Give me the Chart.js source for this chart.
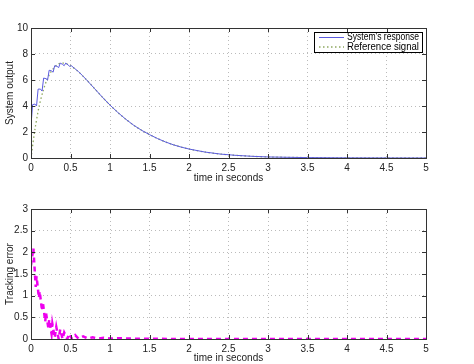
<!DOCTYPE html>
<html>
<head>
<meta charset="utf-8">
<script src="https://cdn.jsdelivr.net/npm/chart.js@4"></script>
<style>
  body { margin: 0; background: #fff; overflow: hidden; }
  .box { position: absolute; left: 0; width: 474px; }
  #top { top: 0; height: 188px; }
  #bottom { top: 190px; height: 178px; }
</style>
</head>
<body>
<div class="box" id="top"><canvas id="respChart"></canvas></div>
<div class="box" id="bottom"><canvas id="errChart"></canvas></div>
<script>
// system response (sawtooth at the start, then smooth decay)
let sysTime = [0, 0.02, 0.05, 0.07, 0.09, 0.12, 0.14, 0.16, 0.19, 0.21, 0.23, 0.26, 0.28, 0.30, 0.33, 0.35,
    0.37, 0.40, 0.42, 0.44, 0.47, 0.49, 0.51, 0.55, 0.6, 0.65, 0.7, 0.8, 0.9, 1.0, 1.1, 1.2, 1.3, 1.4, 1.5,
    1.6, 1.7, 1.8, 1.9, 2.0, 2.2, 2.4, 2.6, 2.8, 3.0, 3.5, 4.0, 4.5, 5.0];
let sysValues = [2.5, 4.1, 4.15, 4.0, 5.3, 5.3, 5.15, 6.15, 6.1, 6.0, 6.75, 6.7, 6.6, 7.1, 7.05, 6.95,
    7.3, 7.2, 7.1, 7.3, 7.15, 7.05, 7.1, 6.9, 6.65, 6.35, 6.03, 5.37, 4.7, 4.07, 3.5, 2.98, 2.52, 2.13, 1.8,
    1.5, 1.24, 1.02, 0.84, 0.69, 0.46, 0.3, 0.2, 0.13, 0.08, 0.03, 0.01, 0.004, 0.001];

// reference signal
let refTime = [0, 0.05, 0.1, 0.15, 0.2, 0.25, 0.3, 0.35, 0.4, 0.45, 0.5, 0.6, 0.7, 0.8, 0.9, 1.0, 1.1, 1.2,
    1.3, 1.4, 1.5, 1.6, 1.7, 1.8, 1.9, 2.0, 2.2, 2.4, 2.6, 2.8, 3.0, 3.5, 4.0, 4.5, 5.0];
let refValues = [0, 2.2, 3.9, 5.1, 6.0, 6.6, 7.0, 7.25, 7.3, 7.25, 7.1, 6.64, 6.03, 5.37, 4.7, 4.07, 3.5, 2.98,
    2.52, 2.13, 1.8, 1.5, 1.24, 1.02, 0.84, 0.69, 0.46, 0.3, 0.2, 0.13, 0.08, 0.03, 0.01, 0.004, 0.001];

// tracking error
let errTime = [0, 0.03, 0.06, 0.07, 0.10, 0.11, 0.14, 0.15, 0.18, 0.19, 0.22, 0.23, 0.26, 0.27, 0.30, 0.32,
    0.35, 0.37, 0.40, 0.42, 0.46, 0.48, 0.52, 0.56, 0.60, 0.66, 0.72, 0.78, 0.85, 0.92, 1.0, 1.1, 1.2, 1.5, 2.0, 3.0, 4.0, 5.0];
let errValues = [1.7, 2.1, 1.2, 1.45, 0.95, 1.1, 0.65, 0.85, 0.4, 0.6, 0.25, 0.45, 0.12, 0.35, 0.03, 0.28,
    0.0, 0.22, 0.0, 0.15, 0.0, 0.12, 0.0, 0.09, 0.01, 0.06, 0.01, 0.04, 0.01, 0.03, 0.01, 0.02, 0.01, 0.005, 0, 0, 0, 0];

let xTicks = [0, 0.5, 1, 1.5, 2, 2.5, 3, 3.5, 4, 4.5, 5];

const FONT = 'Liberation Sans, Arial, sans-serif';
Chart.defaults.font.family = FONT;
Chart.defaults.color = '#222';

function pts(xs, ys) {
    return xs.map((x, i) => ({ x: x, y: ys[i] }));
}

// matlab-ish frame, inward ticks and a legend box
const framePlugin = {
    id: 'frame',
    afterDraw(chart, args, opts) {
        const ctx = chart.ctx;
        const a = chart.chartArea;
        const xs = chart.scales.x, ys = chart.scales.y;
        ctx.save();
        ctx.strokeStyle = '#333';
        ctx.lineWidth = 1;
        ctx.strokeRect(a.left + 0.5, a.top + 0.5, a.right - a.left, a.bottom - a.top);
        ctx.beginPath();
        xs.ticks.forEach(t => {
            const px = Math.round(xs.getPixelForValue(t.value)) + 0.5;
            ctx.moveTo(px, a.bottom); ctx.lineTo(px, a.bottom - 4);
            ctx.moveTo(px, a.top); ctx.lineTo(px, a.top + 4);
        });
        ys.ticks.forEach(t => {
            const py = Math.round(ys.getPixelForValue(t.value)) + 0.5;
            ctx.moveTo(a.left, py); ctx.lineTo(a.left + 4, py);
            ctx.moveTo(a.right, py); ctx.lineTo(a.right - 4, py);
        });
        ctx.stroke();

        // legend
        const lg = opts.legend;
        ctx.fillStyle = '#fff';
        ctx.fillRect(lg.x, lg.y, lg.w, lg.h);
        ctx.strokeStyle = '#000';
        ctx.strokeRect(lg.x + 0.5, lg.y + 0.5, lg.w, lg.h);
        ctx.font = '10px ' + FONT;
        ctx.textBaseline = 'middle';
        chart.data.datasets.forEach((ds, i) => {
            const yy = lg.y + 5.5 + i * 9.5;
            ctx.beginPath();
            ctx.strokeStyle = ds.borderColor;
            ctx.lineWidth = ds.borderWidth;
            ctx.setLineDash(ds.borderDash || []);
            ctx.moveTo(lg.x + 5, yy);
            ctx.lineTo(lg.x + lg.sample, yy);
            ctx.stroke();
            ctx.setLineDash([]);
            ctx.fillStyle = '#000';
            const tx = lg.x + lg.sample + 3;
            ctx.fillText(ds.label, tx, yy, lg.x + lg.w - 3 - tx);
        });
        ctx.restore();
    }
};

function makeOptions(yMax, yStep, yTitle, topPad, xHeight, legend) {
    return {
        responsive: true,
        maintainAspectRatio: false,
        animation: false,
        layout: { padding: { top: topPad, right: 48, left: 0, bottom: 0 } },
        plugins: {
            legend: { display: false },
            tooltip: { enabled: false },
            frame: { legend: legend }
        },
        elements: { point: { radius: 0 } },
        scales: {
            x: {
                type: 'linear', min: 0, max: 5,
                afterBuildTicks: s => { s.ticks = xTicks.map(v => ({ value: v })); },
                afterFit: s => { s.height = xHeight; },
                grid: { color: '#bbb', drawTicks: false },
                border: { display: false, dash: [1, 3] },
                ticks: { padding: 4, font: { size: 10 }, color: '#222', maxRotation: 0, callback: v => String(v) },
                title: { display: true, text: 'time in seconds', font: { size: 10 }, color: '#222', padding: { top: 0 } }
            },
            y: {
                min: 0, max: yMax,
                afterFit: s => { s.width = 31; },
                grid: { color: '#bbb', drawTicks: false },
                border: { display: false, dash: [1, 3] },
                ticks: { stepSize: yStep, padding: 3, font: { size: 10 }, color: '#222', callback: v => String(v) },
                title: { display: true, text: yTitle, font: { size: 10 }, color: '#222', padding: { bottom: 2 } }
            }
        }
    };
}

new Chart(document.getElementById('respChart'), {
    type: 'line',
    data: {
        datasets: [
            { label: "System's response", data: pts(sysTime, sysValues), borderColor: '#5b5be0', borderWidth: 1, tension: 0 },
            { label: 'Reference signal', data: pts(refTime, refValues), borderColor: '#8ea860', borderWidth: 1.3, borderDash: [1.5, 2.5], tension: 0.3 }
        ]
    },
    options: makeOptions(10, 2, 'System output', 28, 30, { x: 314, y: 32, w: 108, h: 20, sample: 30 }),
    plugins: [framePlugin]
});

new Chart(document.getElementById('errChart'), {
    type: 'line',
    data: {
        datasets: [
            { label: 'Error', data: pts(errTime, errValues), borderColor: '#ee00ee', borderWidth: 2.5, borderDash: [5, 4], tension: 0 }
        ]
    },
    options: makeOptions(3, 0.5, 'Tracking error', 19, 29, { x: 363, y: 213, w: 59, h: 10, sample: 33 }),
    plugins: [framePlugin]
});
</script>
</body>
</html>
